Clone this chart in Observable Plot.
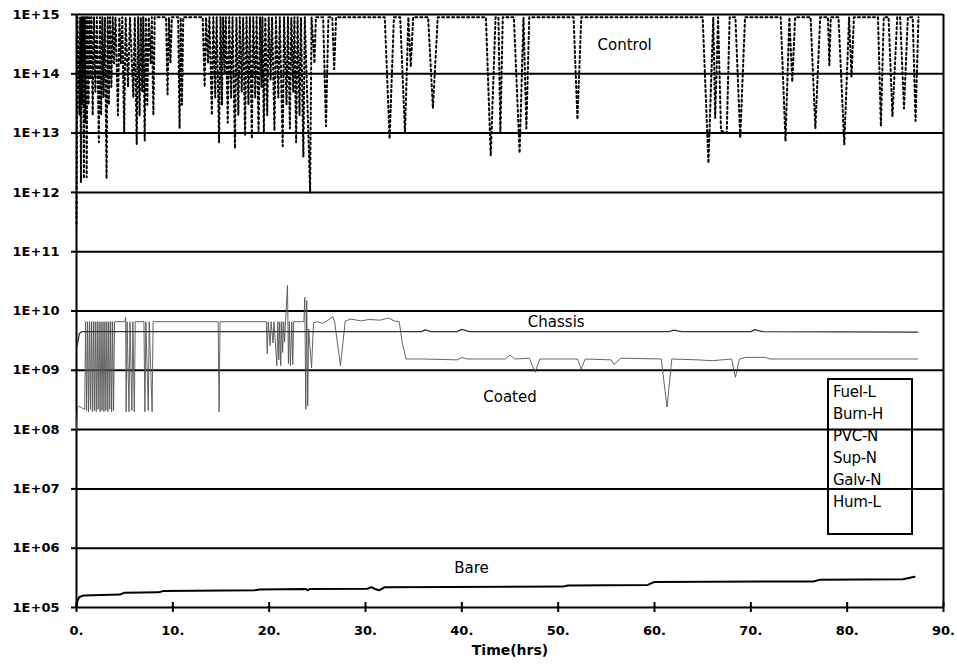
<!DOCTYPE html>
<html>
<head>
<meta charset="utf-8">
<script src="https://cdn.jsdelivr.net/npm/d3@7"></script>
<script src="https://cdn.jsdelivr.net/npm/@observablehq/plot@0.6"></script>
<style>
  html, body { margin: 0; padding: 0; background: #fff; }
  #wrap { position: relative; width: 957px; height: 669px; }
  #legend {
    position: absolute; left: 827px; top: 378px; width: 78px; height: 152px;
    border: 2px solid #000; font-family: "DejaVu Sans", sans-serif; font-size: 15px;
    line-height: 22px; color: #000; box-sizing: content-box; padding-left: 4px; padding-top: 1px;
    letter-spacing: -0.3px;
  }
</style>
</head>
<body>
<div id="wrap"><div id="chart"></div><div id="legend"></div></div>
<script>
// ---- axis ticks ----
const xTicks = [0, 10, 20, 30, 40, 50, 60, 70, 80, 90];
const xTickLabels = ["0.", "10.", "20.", "30.", "40.", "50.", "60.", "70.", "80.", "90."];
const yTicks = [1e5, 1e6, 1e7, 1e8, 1e9, 1e10, 1e11, 1e12, 1e13, 1e14, 1e15];
const yTickLabels = ["1E+05", "1E+06", "1E+07", "1E+08", "1E+09", "1E+10", "1E+11", "1E+12", "1E+13", "1E+14", "1E+15"];
const xTitle = "Time(hrs)";

// ---- legend entries ----
const legendNames = ["Fuel-L", "Burn-H", "PVC-N", "Sup-N", "Galv-N", "Hum-L"];

// ---- in-plot labels ----
const labelText = ["Control", "Chassis", "Coated", "Bare"];
const labelT = [56.9, 49.8, 45.0, 41.0];
const labelV = [3.0e14, 6.4e9, 3.5e8, 4.6e5];

// ---- Control (dotted) : [time, value] ----
const control = [
  [0.0, 3e11], [0.1, 9e14], [0.3, 2e13], [0.38, 9e14], [0.46, 1.5e12], [0.55, 9e14], [0.62, 3e13], [0.69, 9e14],
  [0.77, 1.7e12], [0.85, 9e14], [0.93, 1.5e13], [0.99, 9e14], [1.06, 1.8e12], [1.15, 9e14], [1.25, 3e13], [1.35, 9e14],
  [1.45, 8e13], [1.56, 9e14], [1.68, 2e13], [1.82, 9e14], [1.96, 5e13], [2.12, 9e14], [2.32, 7e12], [2.44, 9e14],
  [2.56, 2e13], [2.68, 9e14], [2.8, 4e13], [2.95, 9e14], [3.12, 1.7e12], [3.24, 9e14], [3.36, 3e13], [3.48, 9e14],
  [3.62, 6e13], [3.76, 9e14], [3.9, 1.5e14], [4.05, 9e14], [4.3, 2e13], [4.45, 9e14], [4.6, 1.5e14], [4.75, 9e14],
  [4.95, 1e13], [5.1, 9e14], [5.35, 6e13], [5.55, 9e14], [5.9, 4e13], [6.05, 9e14], [6.25, 6.5e12], [6.4, 9e14],
  [6.55, 2e13], [6.68, 9e14], [6.82, 5e13], [6.93, 9e14], [7.08, 7.5e12], [7.2, 9e14], [7.35, 3e13], [7.5, 9e14],
  [7.7, 1.5e14], [7.82, 9e14], [7.98, 2e13], [8.12, 9e14], [9.3, 9e14], [9.45, 4.5e13], [9.6, 9e14], [9.75, 1.5e14],
  [9.9, 9e14], [10.55, 9e14], [10.7, 1.2e13], [10.82, 9e14], [10.95, 3e13], [11.08, 9e14], [13.1, 9e14], [13.3, 6e13],
  [13.45, 9e14], [13.65, 1.5e14], [13.8, 9e14], [14.05, 2e13], [14.2, 9e14], [14.4, 4e13], [14.55, 9e14], [14.8, 7e12],
  [14.95, 9e14], [15.1, 3e13], [15.22, 9e14], [15.38, 1e14], [15.5, 9e14], [15.7, 1.5e13], [15.85, 9e14], [16.05, 4e13],
  [16.2, 9e14], [16.45, 5.5e12], [16.6, 9e14], [16.8, 2e13], [16.95, 9e14], [17.15, 5e13], [17.3, 9e14], [17.5, 9e12],
  [17.65, 9e14], [17.85, 3e13], [18.0, 9e14], [18.2, 8e12], [18.35, 9e14], [18.55, 4e13], [18.7, 9e14], [18.9, 1e13],
  [19.05, 9e14], [19.2, 6e13], [19.3, 9e14], [19.45, 1e13], [19.6, 9e14], [19.8, 2e13], [19.95, 9e14], [20.15, 8e13],
  [20.3, 9e14], [20.55, 1.1e13], [20.7, 9e14], [20.95, 4e13], [21.1, 9e14], [21.4, 6e12], [21.55, 9e14], [21.8, 3e13],
  [21.95, 9e14], [22.15, 1.2e13], [22.3, 9e14], [22.5, 5e13], [22.62, 9e14], [22.8, 7e12], [22.95, 9e14], [23.15, 2e13],
  [23.3, 9e14], [23.55, 4e12], [23.7, 9e14], [24.25, 1e12], [24.4, 9e14], [24.7, 1.5e14], [24.85, 9e14], [25.6, 9e14],
  [25.9, 1.3e13], [26.15, 9e14], [26.55, 9e14], [26.75, 1.2e14], [26.95, 9e14], [32.0, 9e14], [32.5, 8e12], [32.95, 9e14],
  [33.6, 9e14], [34.1, 1e13], [34.45, 9e14], [34.7, 1.3e14], [34.95, 9e14], [36.5, 9e14], [37.0, 2.6e13], [37.5, 9e14],
  [42.5, 9e14], [43.0, 4.1e12], [43.5, 9e14], [43.8, 9e14], [44.0, 1e13], [44.25, 9e14], [45.4, 9e14], [46.0, 4.6e12],
  [46.4, 9e14], [46.7, 1.2e13], [47.0, 9e14], [51.6, 9e14], [52.0, 1.7e13], [52.4, 9e14], [65.0, 9e14], [65.6, 3.1e12],
  [66.1, 9e14], [66.3, 1.8e13], [66.6, 9e14], [66.9, 1.1e13], [67.5, 1e13], [67.8, 9e14], [68.4, 9e14], [68.9, 8.2e12],
  [69.4, 9e14], [73.1, 9e14], [73.6, 7.3e12], [74.0, 9e14], [74.3, 7.3e13], [74.6, 9e14], [76.2, 9e14], [76.7, 1.2e13],
  [77.2, 9e14], [78.0, 9e14], [78.15, 1.4e14], [78.3, 9e14], [79.1, 9e14], [79.7, 6.4e12], [80.2, 9e14], [80.45, 9e13],
  [80.7, 9e14], [83.2, 9e14], [83.5, 1.3e13], [83.8, 9e14], [84.3, 9e14], [84.7, 1.9e13], [85.2, 9e14], [85.5, 9e14],
  [85.9, 2.6e13], [86.3, 9e14], [86.8, 9e14], [87.1, 1.6e13], [87.4, 9e14]
];

// ---- Coated : [time, value] ----
const coated = [
  [0.0, 1.0e8], [0.1, 2.3e8], [0.3, 2.5e8], [0.6, 2.3e8], [0.85, 2.2e8],
  [0.95, 6.6e9], [1.05, 2.1e8], [1.15, 6.6e9], [1.25, 2.0e8], [1.35, 6.6e9], [1.45, 2.2e8], [1.55, 6.6e9], [1.65, 2.0e8],
  [1.75, 6.6e9], [1.85, 2.1e8], [1.95, 6.6e9], [2.05, 2.0e8], [2.15, 6.6e9], [2.25, 2.2e8], [2.35, 6.6e9], [2.45, 2.0e8],
  [2.55, 6.6e9], [2.65, 2.1e8], [2.75, 6.6e9], [2.85, 2.0e8], [2.95, 6.6e9], [3.05, 2.1e8], [3.15, 6.6e9], [3.25, 2.0e8],
  [3.35, 6.6e9], [3.45, 2.2e8], [3.55, 6.6e9], [3.65, 2.0e8], [3.75, 6.6e9], [3.85, 2.1e8], [3.95, 6.6e9],
  [5.0, 6.6e9], [5.1, 7.8e9], [5.15, 2.0e8], [5.25, 6.6e9], [5.45, 2.0e8], [5.55, 6.6e9], [5.75, 2.1e8], [5.85, 6.6e9],
  [6.0, 2.0e8], [6.1, 6.6e9], [7.0, 6.6e9], [7.1, 2.0e8], [7.2, 6.6e9], [7.45, 2.1e8], [7.55, 6.6e9], [7.85, 2.0e8],
  [7.95, 6.6e9], [14.7, 6.6e9], [14.8, 2.0e8], [14.9, 6.6e9], [19.7, 6.6e9], [19.8, 1.9e9], [19.9, 6.6e9], [20.1, 2.6e9],
  [20.2, 6.6e9], [20.4, 2.9e9], [20.5, 6.6e9], [20.8, 1.2e9], [20.9, 6.6e9], [21.0, 1.5e9], [21.1, 6.6e9], [21.2, 1.2e9],
  [21.3, 6.6e9], [21.4, 2.0e9], [21.5, 6.6e9], [21.6, 3.0e9], [21.7, 6.6e9], [21.9, 2.7e10], [22.0, 1.3e9], [22.1, 6.6e9],
  [22.2, 1.2e9], [22.35, 6.6e9], [22.45, 1.25e9], [22.55, 6.6e9], [23.6, 6.6e9], [23.7, 1.7e10], [23.8, 2.2e8], [23.9, 1.5e10],
  [24.0, 2.5e8], [24.1, 5.0e9], [24.4, 1.1e9], [24.6, 6.3e9], [25.0, 6.6e9], [25.5, 6.2e9], [26.0, 6.8e9], [26.6, 8.0e9],
  [26.8, 6.5e9], [27.4, 1.2e9], [27.9, 6.8e9], [28.5, 7.3e9], [29.5, 6.8e9], [30.4, 7.2e9], [31.5, 7.0e9], [32.4, 7.6e9],
  [33.0, 6.8e9], [33.5, 6.6e9], [33.8, 3.0e9], [34.2, 1.55e9], [36.0, 1.55e9], [39.5, 1.5e9], [40.0, 1.65e9], [40.5, 1.55e9],
  [44.5, 1.55e9], [45.0, 1.8e9], [45.5, 1.55e9], [47.0, 1.6e9], [47.6, 9.3e8], [48.1, 1.55e9], [52.0, 1.55e9], [52.4, 1.05e9],
  [52.8, 1.55e9], [55.5, 1.5e9], [55.8, 1.25e9], [56.5, 1.6e9], [60.7, 1.55e9], [61.3, 2.4e8], [61.8, 1.55e9], [64.5, 1.5e9],
  [66.0, 1.45e9], [68.0, 1.55e9], [68.4, 7.6e8], [68.8, 1.55e9], [69.5, 1.65e9], [71.5, 1.65e9], [72.0, 1.55e9], [87.3, 1.55e9]
];

// ---- Chassis : [time, value] ----
const chassis = [
  [0.05, 2.5e9], [0.3, 4.2e9], [0.6, 4.5e9], [24.0, 4.5e9], [35.8, 4.5e9], [36.2, 4.8e9], [36.8, 4.5e9], [39.5, 4.5e9],
  [40.0, 4.9e9], [40.8, 4.5e9], [61.5, 4.5e9], [62.0, 4.75e9], [62.8, 4.5e9], [70.0, 4.5e9], [70.4, 4.85e9], [71.2, 4.5e9],
  [87.3, 4.4e9]
];

// ---- Bare : [time, value] ----
const bare = [
  [0.0, 1.0e5], [0.1, 1.3e5], [0.3, 1.5e5], [0.8, 1.6e5], [4.5, 1.65e5], [5.0, 1.78e5], [8.5, 1.8e5], [9.0, 1.9e5],
  [18.5, 1.95e5], [19.0, 2.02e5], [23.8, 2.05e5], [24.0, 1.95e5], [24.2, 2.05e5], [30.2, 2.07e5], [30.6, 2.2e5],
  [31.0, 2.05e5], [31.4, 1.95e5], [32.0, 2.2e5], [50.5, 2.25e5], [51.0, 2.35e5], [59.3, 2.4e5], [60.0, 2.7e5],
  [76.5, 2.75e5], [77.2, 2.95e5], [85.8, 3.0e5], [87.0, 3.3e5]
];

const font = "DejaVu Sans, sans-serif";

const chart = Plot.plot({
  width: 957,
  height: 669,
  marginLeft: 76,
  marginRight: 14,
  marginTop: 14,
  marginBottom: 62,
  style: { fontFamily: font, background: "white", color: "black" },
  x: { domain: [0, 90], label: null },
  y: { type: "log", domain: [1e5, 1e15], label: null },
  marks: [
    Plot.ruleY(yTicks, { stroke: "black", strokeWidth: 2 }),
    Plot.ruleX([0, 90], { stroke: "black", strokeWidth: 2 }),
    Plot.line(coated, { x: d => d[0], y: d => d[1], stroke: "#555", strokeWidth: 0.9 }),
    Plot.line(chassis, { x: d => d[0], y: d => d[1], stroke: "#333", strokeWidth: 1.3 }),
    Plot.line(bare, { x: d => d[0], y: d => d[1], stroke: "black", strokeWidth: 2 }),
    Plot.line(control, { x: d => d[0], y: d => d[1], stroke: "black", strokeWidth: 2, strokeDasharray: "2,3" }),
    Plot.text(labelText, { x: (d, i) => labelT[i], y: (d, i) => labelV[i], text: d => d, fontSize: 15, fill: "black", fontFamily: font }),
    Plot.axisX(xTicks, { tickSize: 10, dy: -5, tickFormat: () => "", strokeWidth: 2 }),
    Plot.axisX(xTicks, { tickSize: 0, tickPadding: 18, tickFormat: d => xTickLabels[xTicks.indexOf(d)], fontSize: 13, fontWeight: "bold", fontFamily: font }),
    Plot.axisY(yTicks, { tickSize: 5, tickPadding: 12, strokeWidth: 2, tickFormat: d => yTickLabels[yTicks.indexOf(d)], fontSize: 13, fontWeight: "bold", fontFamily: font }),
    Plot.text([xTitle], { frameAnchor: "bottom", dy: 47, text: d => d, fontSize: 14, fontWeight: "bold", fill: "black", fontFamily: font })
  ]
});
document.getElementById("chart").appendChild(chart);

const legend = document.getElementById("legend");
legend.innerHTML = legendNames.map(n => `<div>${n}</div>`).join("");
</script>
</body>
</html>
